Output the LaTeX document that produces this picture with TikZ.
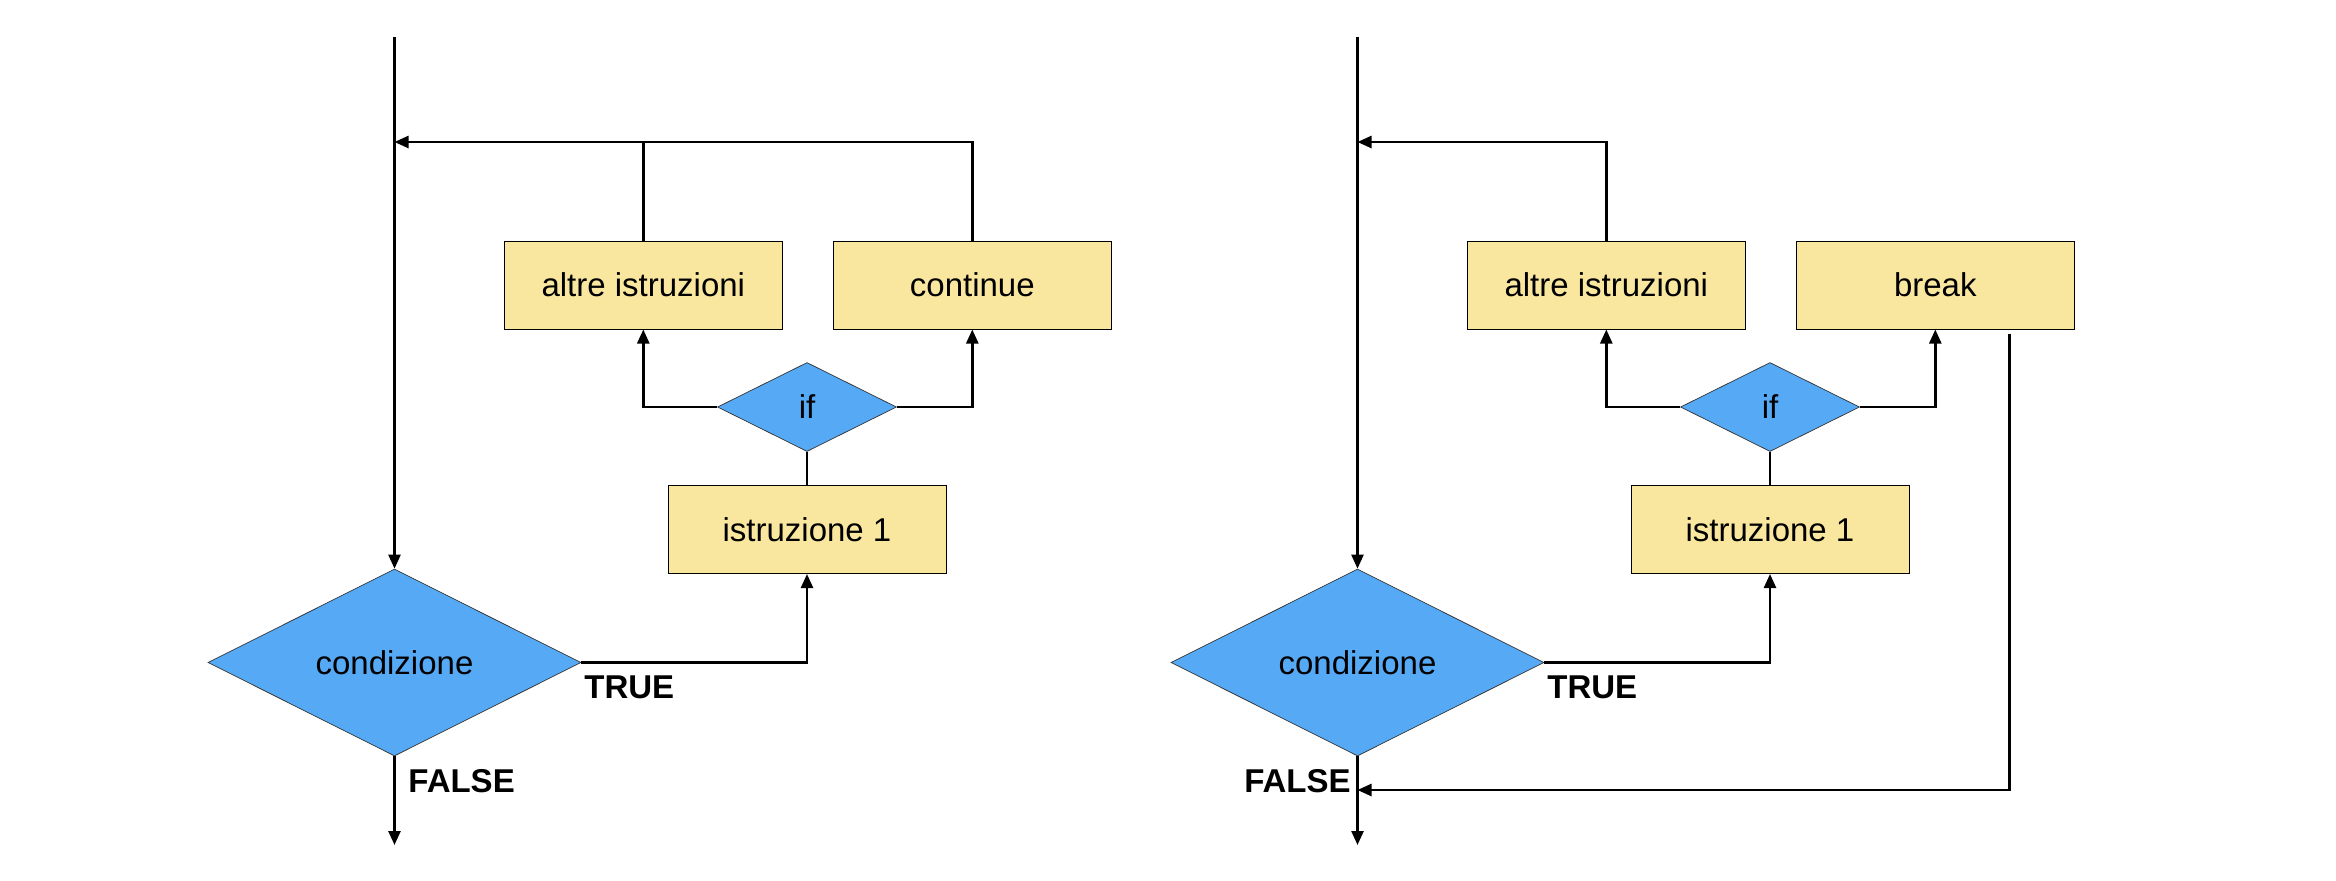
\documentclass[tikz,border=0pt]{standalone}
\usepackage{fontspec}
\setmainfont{Liberation Sans}
\usetikzlibrary{shapes.geometric,arrows.meta}
\definecolor{boxyellow}{RGB}{249,231,159}
\definecolor{diamblue}{RGB}{86,169,245}
\begin{document}
\begin{tikzpicture}[x=0.5pt,y=-0.5pt,
  stmt/.style={draw=black,line width=0.5pt,fill=boxyellow,minimum width=139pt,minimum height=44pt,inner sep=0pt,font=\fontsize{16.5}{20}\selectfont},
  decision/.style={shape=diamond,aspect=2,draw=black!80,line width=0.35pt,fill=diamblue,inner sep=0pt,font=\fontsize{16.5}{20}\selectfont},
  conn/.style={line width=1.25pt,draw=black},
  arr/.style={conn,-{Triangle[length=7pt,width=6pt]}},
  lbl/.style={font=\fontsize{16.5}{20}\selectfont\bfseries,inner sep=0pt}]
\useasboundingbox (0,0) rectangle (2336,880);

% ---------- left diagram (continue) ----------
\coordinate (Ltop) at (394.5,37);
\coordinate (Ljoin) at (394.5,142);
\coordinate (Lend) at (394.5,845);
\node[decision,minimum width=186.5pt,minimum height=93.5pt] (Lcond) at (394.5,662.5) {condizione};
\node[stmt] (Lis) at (807,529.5) {istruzione 1};
\node[decision,minimum width=89.5pt,minimum height=44.5pt] (Lif) at (807,407) {if};
\node[stmt] (Lalt) at (643.3,285) {altre istruzioni};
\node[stmt] (Lcont) at (972.3,285) {continue};
\node[lbl,anchor=base west] (Ltrue) at (584,698) {TRUE};
\node[lbl,anchor=base west] (Lfalse) at (408,792) {FALSE};

\draw[arr] (Ltop) -- (Lcond.north);
\draw[arr] (Lcond.east) -| (Lis.south);
\draw[conn] (Lis.north) -- (Lif.south);
\draw[arr] (Lif.west) -| (Lalt.south);
\draw[arr] (Lif.east) -| (Lcont.south);
\draw[conn] (Lalt.north) -- (Lalt.north |- Ljoin);
\draw[arr] (Lcont.north) |- (Ljoin);
\draw[arr] (Lcond.south) -- (Lend);

% ---------- right diagram (break) ----------
\coordinate (Rtop) at (1357.5,37);
\coordinate (Rjoin) at (1357.5,142);
\coordinate (Rend) at (1357.5,845);
\coordinate (Rback) at (1357.5,790);
\coordinate (Rcorner) at (2009.5,790);
\node[decision,minimum width=186.5pt,minimum height=93.5pt] (Rcond) at (1357.5,662.5) {condizione};
\node[stmt] (Ris) at (1770,529.5) {istruzione 1};
\node[decision,minimum width=89.5pt,minimum height=44.5pt] (Rif) at (1770,407) {if};
\node[stmt] (Ralt) at (1606.3,285) {altre istruzioni};
\node[stmt] (Rbrk) at (1935.3,285) {break};
\node[lbl,anchor=base west] (Rtrue) at (1547,698) {TRUE};
\node[lbl,anchor=base east] (Rfalse) at (1351,792) {FALSE};

\draw[arr] (Rtop) -- (Rcond.north);
\draw[arr] (Rcond.east) -| (Ris.south);
\draw[conn] (Ris.north) -- (Rif.south);
\draw[arr] (Rif.west) -| (Ralt.south);
\draw[arr] (Rif.east) -| (Rbrk.south);
\draw[arr] (Ralt.north) |- (Rjoin);
\draw[arr] ([yshift=-2]Rbrk.south -| Rcorner) -- (Rcorner) -- (Rback);
\draw[arr] (Rcond.south) -- (Rend);
\end{tikzpicture}
\end{document}
